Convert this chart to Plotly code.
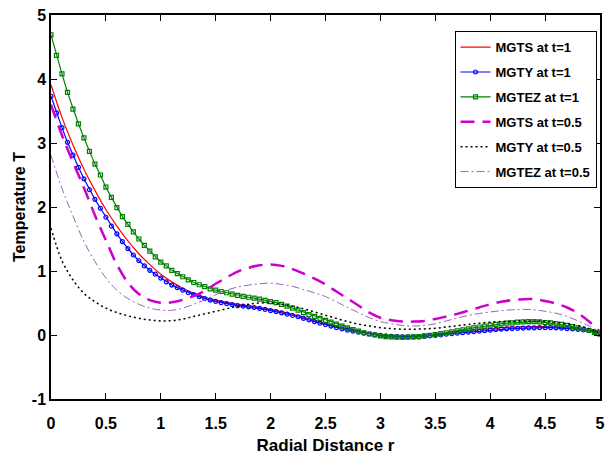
import numpy as np
import plotly.graph_objects as go

# x grids
x_fine = [round(i * 0.05, 2) for i in range(101)]
x_coarse = [round(i * 0.1, 1) for i in range(51)]

# MGTEZ at t=1 (green, square markers) on x_fine
mgtez_t1 = [4.69, 4.37, 4.08, 3.79, 3.53, 3.30, 3.08, 2.87, 2.67, 2.50,
            2.31, 2.15, 1.99, 1.85, 1.73, 1.61, 1.50, 1.40, 1.31, 1.22,
            1.14, 1.08, 1.01, 0.96, 0.91, 0.86, 0.82, 0.785, 0.755, 0.72,
            0.70, 0.68, 0.66, 0.64, 0.62, 0.605, 0.59, 0.575, 0.56, 0.54,
            0.52, 0.505, 0.48, 0.45, 0.42, 0.39, 0.35, 0.32, 0.29, 0.26,
            0.23, 0.20, 0.17, 0.14, 0.11, 0.085, 0.06, 0.035, 0.016, 0.0,
            -0.015, -0.025, -0.03, -0.033, -0.035, -0.033, -0.03, -0.025, -0.015, -0.005,
            0.008, 0.02, 0.035, 0.05, 0.065, 0.08, 0.095, 0.11, 0.125, 0.14,
            0.155, 0.165, 0.175, 0.185, 0.19, 0.20, 0.205, 0.21, 0.21, 0.205,
            0.195, 0.19, 0.175, 0.165, 0.15, 0.13, 0.11, 0.09, 0.07, 0.04,
            0.015]

# MGTY at t=1 (blue, circle markers) on x_fine
mgty_t1 = [3.73, 3.47, 3.24, 3.01, 2.81, 2.62, 2.44, 2.27, 2.12, 1.98,
           1.84, 1.70, 1.58, 1.46, 1.35, 1.25, 1.16, 1.08, 1.01, 0.95,
           0.89, 0.83, 0.78, 0.74, 0.70, 0.66, 0.63, 0.60, 0.57, 0.545,
           0.525, 0.505, 0.49, 0.475, 0.46, 0.45, 0.44, 0.43, 0.415, 0.40,
           0.38, 0.365, 0.345, 0.325, 0.305, 0.285, 0.26, 0.235, 0.21, 0.185,
           0.16, 0.14, 0.115, 0.095, 0.075, 0.06, 0.045, 0.03, 0.016, 0.005,
           -0.005, -0.015, -0.02, -0.025, -0.028, -0.03, -0.03, -0.028, -0.022, -0.016,
           -0.008, 0.0, 0.012, 0.02, 0.028, 0.036, 0.044, 0.052, 0.06, 0.068,
           0.076, 0.085, 0.092, 0.097, 0.10, 0.104, 0.108, 0.11, 0.112, 0.114,
           0.115, 0.115, 0.112, 0.107, 0.10, 0.095, 0.088, 0.08, 0.07, 0.055,
           0.036]

# MGTS at t=1 (red) on x_coarse
mgts_t1 = [3.91, 3.40, 2.97, 2.59, 2.26, 1.96, 1.70, 1.47, 1.27, 1.10,
           0.95, 0.83, 0.73, 0.65, 0.59, 0.545, 0.51, 0.48, 0.455, 0.43,
           0.40, 0.365, 0.325, 0.28, 0.23, 0.18, 0.135, 0.09, 0.055, 0.025,
           0.0, -0.015, -0.022, -0.02, -0.01, 0.005, 0.025, 0.045, 0.065, 0.085,
           0.10, 0.115, 0.125, 0.13, 0.133, 0.13, 0.125, 0.115, 0.10, 0.075,
           0.035]

# MGTS at t=0.5 (magenta dashed)
mgts_t05 = [3.60, 3.12, 2.70, 2.30, 1.87, 1.48, 1.10, 0.82, 0.64, 0.545,
            0.505, 0.51, 0.55, 0.61, 0.69, 0.80, 0.90, 0.99, 1.05, 1.09,
            1.10, 1.08, 1.03, 0.96, 0.88, 0.79, 0.68, 0.57, 0.46, 0.35,
            0.27, 0.23, 0.21, 0.21, 0.22, 0.25, 0.29, 0.33, 0.38, 0.43,
            0.48, 0.52, 0.545, 0.56, 0.56, 0.53, 0.49, 0.43, 0.34, 0.21,
            0.05]

# MGTY at t=0.5 (black dotted)
mgty_t05 = [1.67, 1.16, 0.86, 0.65, 0.52, 0.42, 0.35, 0.30, 0.26, 0.235,
            0.22, 0.225, 0.25, 0.29, 0.33, 0.37, 0.41, 0.45, 0.48, 0.50,
            0.50, 0.48, 0.45, 0.41, 0.36, 0.31, 0.26, 0.21, 0.17, 0.14,
            0.115, 0.10, 0.09, 0.09, 0.095, 0.105, 0.125, 0.145, 0.165, 0.185,
            0.20, 0.21, 0.215, 0.22, 0.22, 0.215, 0.20, 0.175, 0.145, 0.10,
            0.04]

# MGTEZ at t=0.5 (purple dash-dot)
mgtez_t05 = [2.81, 2.29, 1.86, 1.46, 1.15, 0.89, 0.70, 0.57, 0.48, 0.42,
             0.39, 0.385, 0.42, 0.48, 0.55, 0.63, 0.70, 0.75, 0.78, 0.80,
             0.81, 0.79, 0.76, 0.71, 0.66, 0.60, 0.52, 0.43, 0.35, 0.27,
             0.21, 0.175, 0.15, 0.14, 0.15, 0.175, 0.22, 0.265, 0.305, 0.335,
             0.36, 0.38, 0.395, 0.40, 0.395, 0.37, 0.34, 0.29, 0.22, 0.14,
             0.04]

x_ticks = [0, 0.5, 1, 1.5, 2, 2.5, 3, 3.5, 4, 4.5, 5]
x_ticklabels = ["0", "0.5", "1", "1.5", "2", "2.5", "3", "3.5", "4", "4.5", "5"]
y_ticks = [-1, 0, 1, 2, 3, 4, 5]
y_ticklabels = ["-1", "0", "1", "2", "3", "4", "5"]

FONT = "Liberation Sans, Arial, sans-serif"

fig = go.Figure()
fig.add_trace(go.Scatter(x=x_coarse, y=mgts_t1, mode="lines", name="MGTS at t=1",
                         line=dict(color="#ff0000", width=1.2, shape="spline"),
                         legendgroup="a"))
fig.add_trace(go.Scatter(x=x_fine, y=mgty_t1, mode="lines+markers", name="MGTY at t=1",
                         line=dict(color="#0000ff", width=1.2),
                         marker=dict(symbol="circle-open", size=4, color="#0000ff",
                                     line=dict(width=1.2)),
                         legendgroup="b"))
fig.add_trace(go.Scatter(x=x_fine, y=mgtez_t1, mode="lines+markers", name="MGTEZ at t=1",
                         line=dict(color="#008000", width=1.2),
                         marker=dict(symbol="square-open", size=4, color="#008000",
                                     line=dict(width=1.2)),
                         legendgroup="c"))
fig.add_trace(go.Scatter(x=x_coarse, y=mgts_t05, mode="lines", name="MGTS at t=0.5",
                         line=dict(color="#cc00cc", width=2.5, dash="14px,8px", shape="spline"),
                         legendgroup="d"))
fig.add_trace(go.Scatter(x=x_coarse, y=mgty_t05, mode="lines", name="MGTY at t=0.5",
                         line=dict(color="#000000", width=1.5, dash="2px,3px", shape="spline"),
                         legendgroup="e"))
fig.add_trace(go.Scatter(x=x_coarse, y=mgtez_t05, mode="lines", name="MGTEZ at t=0.5",
                         line=dict(color="#a060c0", width=1, dash="8px,3px,2px,3px", shape="spline"),
                         legendgroup="f"))

axis_common = dict(showline=True, linecolor="black", linewidth=1.5, mirror="allticks",
                   ticks="inside", ticklen=6, tickwidth=1.2, tickcolor="black",
                   showgrid=False, zeroline=False, automargin=False)

fig.update_layout(
    width=605, height=463,
    paper_bgcolor="white", plot_bgcolor="white",
    margin=dict(l=51, r=5, t=15, b=64),
    xaxis=dict(range=[0, 5], tickvals=x_ticks, ticktext=x_ticklabels,
               ticklabelstandoff=9,
               tickfont=dict(family=FONT, size=16, color="black", weight="bold"),
               title=dict(text="Radial Distance r", standoff=8,
                          font=dict(family=FONT, size=17, color="black", weight="bold")),
               **axis_common),
    yaxis=dict(range=[-1, 5], tickvals=y_ticks, ticktext=y_ticklabels,
               tickfont=dict(family=FONT, size=16, color="black", weight="bold"),
               title=dict(text="Temperature T", standoff=2,
                          font=dict(family=FONT, size=16, color="black", weight="bold")),
               **axis_common),
    legend=dict(x=0.735, y=0.958, xanchor="left", yanchor="top",
                bgcolor="white", bordercolor="black", borderwidth=1,
                font=dict(family=FONT, size=13, color="black", weight="bold"),
                tracegroupgap=5, itemwidth=30),
    showlegend=True,
)

fig.write_html("out.html", config={"displayModeBar": False},
               post_script="document.body.style.margin='0px';")
